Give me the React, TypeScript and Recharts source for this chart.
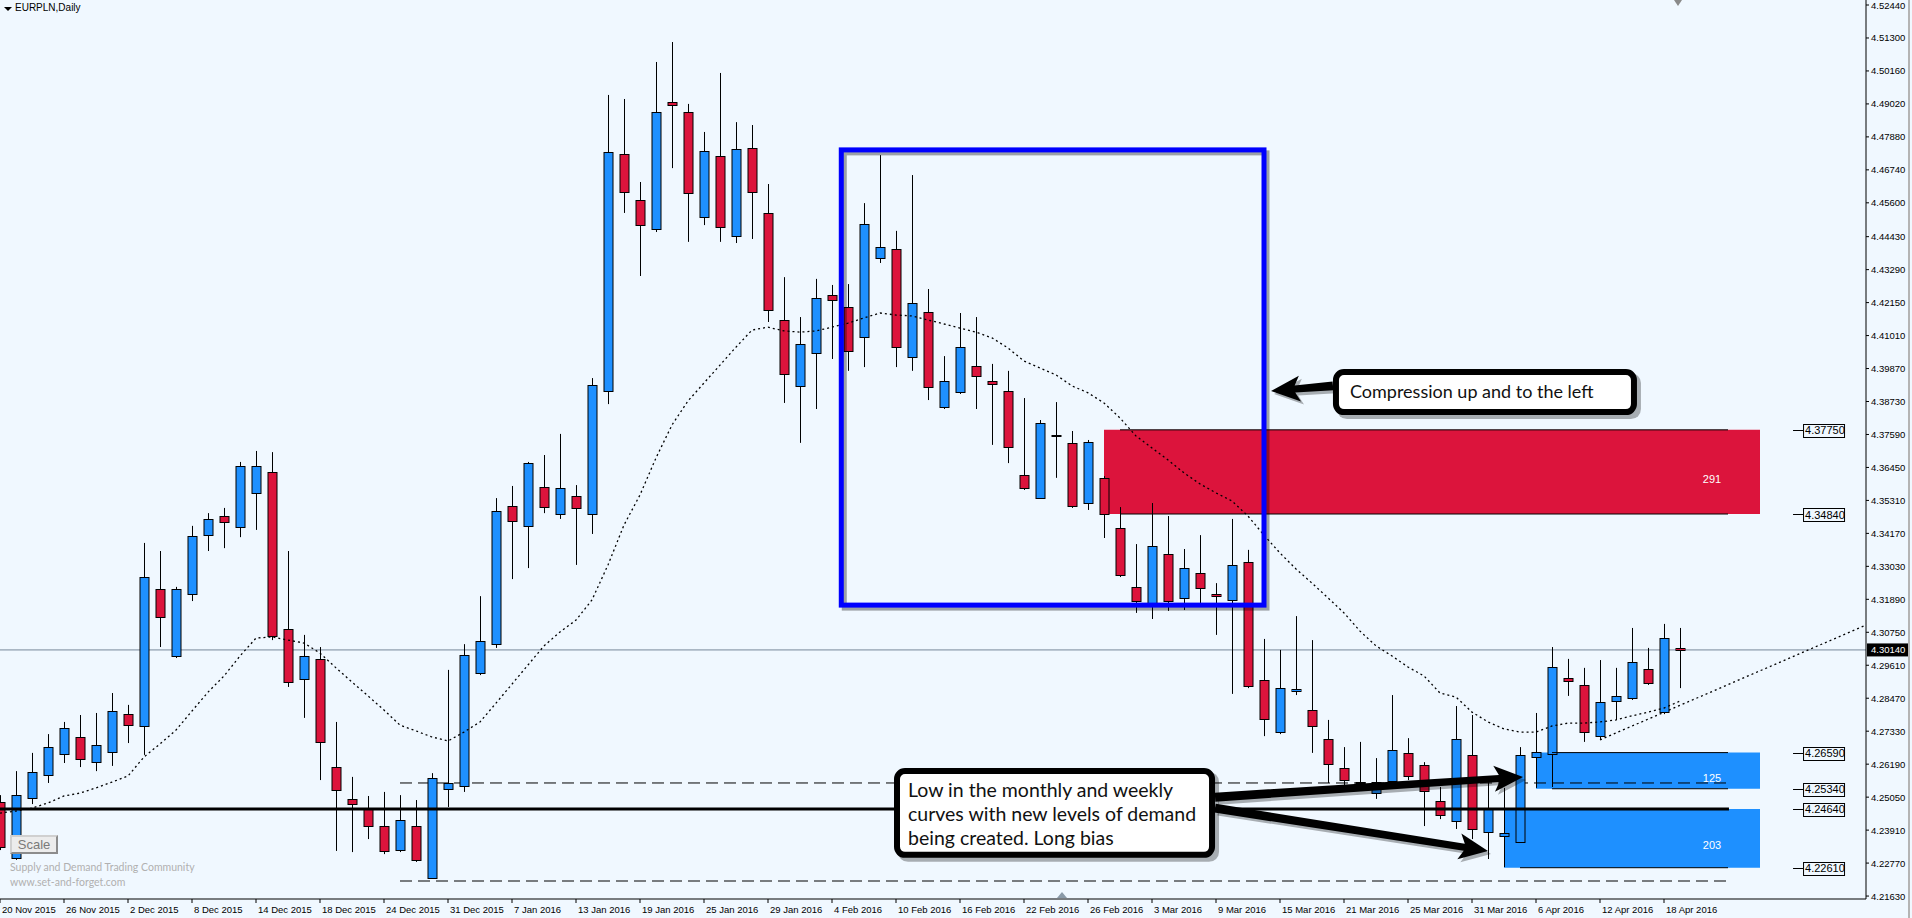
import React from 'react';
import {
  ComposedChart,
  Bar,
  Line,
  XAxis,
  YAxis,
  ReferenceLine,
  ReferenceArea,
  ReferenceDot,
} from 'recharts';

// EURPLN daily candles, 20 Nov 2015 .. 19 Apr 2016 (one entry per trading day)
const opens = [
  4.2488, 4.2295, 4.2502, 4.2582, 4.2654, 4.2713, 4.2626, 4.2661, 4.2792, 4.2751,
  4.3225, 4.2993, 4.3207, 4.3411, 4.3477, 4.3439, 4.3557, 4.3629, 4.3086, 4.2913,
  4.2983, 4.2609, 4.2499, 4.2467, 4.2405, 4.2322, 4.2405, 4.2225, 4.2533, 4.2543,
  4.2934, 4.3034, 4.3512, 4.3443, 4.3577, 4.3484, 4.3546, 4.3484, 4.3909, 4.4729,
  4.457, 4.4469, 4.4909, 4.4874, 4.4511, 4.4722, 4.4445, 4.475, 4.4525, 4.4155,
  4.3927, 4.4041, 4.4241, 4.42, 4.4096, 4.4369, 4.44, 4.4027, 4.4183, 4.3854,
  4.3906, 4.3996, 4.3944, 4.3909, 4.3619, 4.3539, 4.3757, 4.373, 4.3522, 4.3609,
  4.3436, 4.3232, 4.3173, 4.3346, 4.3194, 4.328, 4.3207, 4.3187, 4.3318, 4.291,
  4.273, 4.2872, 4.2806, 4.2706, 4.2606, 4.2555, 4.2519, 4.2561, 4.2658, 4.2616,
  4.2492, 4.2423, 4.2651, 4.2384, 4.2371, 4.235, 4.2644, 4.2654, 4.2917, 4.2893,
  4.2716, 4.2837, 4.2848, 4.2948, 4.2799, 4.3021,
];
const highs = [
  4.2512, 4.2595, 4.2658, 4.2723, 4.2765, 4.2789, 4.2796, 4.2865, 4.2824, 4.3384,
  4.3356, 4.3232, 4.3443, 4.3487, 4.3505, 4.3664, 4.3702, 4.3698, 4.3356, 4.3066,
  4.3024, 4.2765, 4.2575, 4.2509, 4.2523, 4.2512, 4.2495, 4.2588, 4.2945, 4.3034,
  4.32, 4.3539, 4.3581, 4.3664, 4.3688, 4.3761, 4.3584, 4.3954, 4.4933, 4.4919,
  4.4632, 4.5047, 4.5116, 4.4902, 4.4805, 4.5009, 4.4839, 4.4829, 4.4625, 4.4303,
  4.4165, 4.4297, 4.4276, 4.4279, 4.4559, 4.4725, 4.4463, 4.4656, 4.4262, 4.403,
  4.4179, 4.4165, 4.4003, 4.3979, 4.3885, 4.3809, 4.3871, 4.3771, 4.374, 4.3615,
  4.3508, 4.338, 4.3522, 4.3477, 4.3363, 4.3411, 4.3245, 4.3467, 4.336, 4.3052,
  4.3014, 4.3131, 4.3048, 4.2772, 4.2678, 4.2696, 4.264, 4.2858, 4.2709, 4.2626,
  4.254, 4.282, 4.2789, 4.2557, 4.2537, 4.2678, 4.2796, 4.3024, 4.2983, 4.2952,
  4.2979, 4.2952, 4.309, 4.3021, 4.3104, 4.309,
];
const lows = [
  4.2322, 4.2288, 4.2481, 4.2554, 4.2623, 4.2609, 4.2595, 4.2613, 4.2692, 4.2651,
  4.3024, 4.2986, 4.3183, 4.3356, 4.3366, 4.3404, 4.3429, 4.3048, 4.2886, 4.2779,
  4.2564, 4.2319, 4.2315, 4.236, 4.2308, 4.2315, 4.2281, 4.2222, 4.2471, 4.2523,
  4.2927, 4.3021, 4.3259, 4.3297, 4.3487, 4.3467, 4.3308, 4.3415, 4.3864, 4.4525,
  4.4307, 4.4459, 4.468, 4.4425, 4.4483, 4.4425, 4.4421, 4.4435, 4.4148, 4.3868,
  4.373, 4.3847, 4.402, 4.3979, 4.3992, 4.4352, 4.3992, 4.3979, 4.3878, 4.3847,
  4.3899, 4.3847, 4.3723, 4.366, 4.3567, 4.3536, 4.3609, 4.3505, 4.3498, 4.3401,
  4.3266, 4.3142, 4.3121, 4.3149, 4.3152, 4.3176, 4.3066, 4.2862, 4.2882, 4.2716,
  4.2723, 4.2858, 4.2658, 4.2554, 4.2547, 4.2551, 4.2499, 4.2554, 4.2564, 4.2405,
  4.2429, 4.2395, 4.236, 4.2291, 4.2263, 4.2347, 4.2537, 4.254, 4.2855, 4.2696,
  4.2703, 4.2772, 4.2841, 4.2893, 4.2792, 4.2882,
];
const closes = [
  4.2333, 4.2512, 4.2592, 4.2678, 4.2744, 4.2637, 4.2685, 4.2803, 4.2754, 4.3266,
  4.3128, 4.3225, 4.3408, 4.3467, 4.3456, 4.365, 4.365, 4.3062, 4.2903, 4.2993,
  4.2696, 4.253, 4.2481, 4.2405, 4.2319, 4.2426, 4.2288, 4.2571, 4.2554, 4.2996,
  4.3045, 4.3494, 4.346, 4.366, 4.3508, 4.3574, 4.3505, 4.393, 4.4736, 4.4597,
  4.4483, 4.4874, 4.4898, 4.4594, 4.4739, 4.4476, 4.4746, 4.4597, 4.4189, 4.3968,
  4.4072, 4.4231, 4.4224, 4.4048, 4.4487, 4.4407, 4.4061, 4.4214, 4.3923, 4.3944,
  4.4061, 4.3961, 4.3934, 4.3716, 4.3574, 4.3799, 4.3758, 4.3512, 4.3733, 4.3484,
  4.3273, 4.3183, 4.3373, 4.3183, 4.3297, 4.3228, 4.32, 4.3308, 4.2889, 4.2775,
  4.2882, 4.2879, 4.2751, 4.262, 4.2564, 4.2559, 4.2557, 4.2668, 4.2578, 4.2526,
  4.2443, 4.2706, 4.2395, 4.2464, 4.2381, 4.2651, 4.2661, 4.2955, 4.2906, 4.273,
  4.2834, 4.2855, 4.2972, 4.2899, 4.3055, 4.3014,
];
// dotted moving average
const maValues = [
  4.245, 4.2457, 4.2467, 4.2485, 4.2509, 4.2519, 4.2537, 4.2557, 4.2578, 4.2644,
  4.2689, 4.2737, 4.2803, 4.2868, 4.2924, 4.2993, 4.3055, 4.3059, 4.3048, 4.3038,
  4.3003, 4.2952, 4.2903, 4.2855, 4.2806, 4.2754, 4.2734, 4.2713, 4.2699, 4.273,
  4.2765, 4.283, 4.2896, 4.2962, 4.3028, 4.3076, 4.3117, 4.3187, 4.3308, 4.3446,
  4.355, 4.3678, 4.3792, 4.3875, 4.3937, 4.3999, 4.4061, 4.412, 4.413, 4.4117,
  4.4113, 4.4117, 4.413, 4.4144, 4.4162, 4.4179, 4.4172, 4.4169, 4.4155, 4.4141,
  4.4127, 4.4113, 4.4093, 4.4058, 4.4013, 4.3989, 4.3965, 4.3927, 4.3903, 4.3868,
  4.3816, 4.3754, 4.3712, 4.3671, 4.3626, 4.3588, 4.3557, 4.3529, 4.3477, 4.3411,
  4.3349, 4.3294, 4.3245, 4.3194, 4.3142, 4.3079, 4.3028, 4.2993, 4.2955, 4.2924,
  4.2865, 4.2851, 4.2799, 4.2765, 4.2741, 4.273, 4.273, 4.2751, 4.2761, 4.2761,
  4.2765, 4.2772, 4.2786, 4.2799, 4.2813, 4.2837,
];

// one label every 4 bars
const tickLabels = [
  '20 Nov 2015', '26 Nov 2015', '2 Dec 2015', '8 Dec 2015', '14 Dec 2015', '18 Dec 2015',
  '24 Dec 2015', '31 Dec 2015', '7 Jan 2016', '13 Jan 2016', '19 Jan 2016', '25 Jan 2016',
  '29 Jan 2016', '4 Feb 2016', '10 Feb 2016', '16 Feb 2016', '22 Feb 2016', '26 Feb 2016',
  '3 Mar 2016', '9 Mar 2016', '15 Mar 2016', '21 Mar 2016', '25 Mar 2016', '31 Mar 2016',
  '6 Apr 2016', '12 Apr 2016', '18 Apr 2016',
];
const priceTicks = [
  4.5244, 4.513, 4.5016, 4.4902, 4.4788, 4.4674, 4.456, 4.4443, 4.4329, 4.4215,
  4.4101, 4.3987, 4.3873, 4.3759, 4.3645, 4.3531, 4.3417, 4.3303, 4.3189, 4.3075,
  4.2961, 4.2847, 4.2733, 4.2619, 4.2505, 4.2391, 4.2277, 4.2163,
];
const levelLabels = [4.3775, 4.3484, 4.2659, 4.2534, 4.2464, 4.2261];
const lastPrice = 4.3014;

const RED = '#DC143C';
const BLUE = '#1E90FF';
const AXIS_FONT = '"Liberation Sans", Arial, sans-serif';
const NOTE_FONT = 'Lato, "Open Sans", sans-serif';

const data = opens.map((o, i) => ({
  i,
  open: o,
  high: highs[i],
  low: lows[i],
  close: closes[i],
  ma: maValues[i],
}));
const xTicks = tickLabels.map((_, k) => k * 4);

const Candle = (props: any) => {
  const { x, y, width, height } = props;
  const d = props.payload ?? props;
  if (x == null || y == null || !d) return null;
  const top = Math.min(y, y + height);
  const h = Math.abs(height);
  const span = d.high - d.low || 1;
  const toY = (v: number) => top + ((d.high - v) / span) * h;
  const cx = Math.round(x + width / 2);
  const bTop = toY(Math.max(d.open, d.close));
  const bBot = toY(Math.min(d.open, d.close));
  const up = d.close >= d.open;
  return (
    <g>
      <line x1={cx + 0.5} x2={cx + 0.5} y1={top} y2={top + h} stroke="#000" strokeWidth={1} />
      <rect
        x={cx - 4}
        y={Math.round(bTop) + 0.5}
        width={9}
        height={Math.max(Math.round(bBot - bTop), 1)}
        fill={up ? BLUE : RED}
        stroke="#000"
        strokeWidth={1}
      />
    </g>
  );
};

const xTick = (p: any) => (
  <text x={p.x + 2} y={p.y + 8} fontSize={9.5} fontFamily={AXIS_FONT} fill="#000">
    {tickLabels[Math.round(p.payload.value / 4)]}
  </text>
);
const yTick = (p: any) => (
  <text x={p.x} y={p.y + 3.5} fontSize={9.5} fontFamily={AXIS_FONT} fill="#000">
    {Number(p.payload.value).toFixed(5)}
  </text>
);

const levelBox = (v: number) => (p: any) => (
  <g>
    <line x1={p.cx - 10} x2={p.cx} y1={Math.round(p.cy) + 0.5} y2={Math.round(p.cy) + 0.5} stroke="#000" />
    <rect x={p.cx + 0.5} y={Math.round(p.cy) - 6 + 0.5} width={41} height={13} fill="#F0F8FF" stroke="#000" />
    <text x={p.cx + 2} y={p.cy + 4.5} fontSize={11} fontFamily={AXIS_FONT} fill="#000">
      {v.toFixed(5)}
    </text>
  </g>
);

const zoneText = (t: string) => (p: any) => (
  <text x={p.cx} y={p.cy + 4} textAnchor="middle" fontSize={11} fontFamily={AXIS_FONT} fill="#fff">
    {t}
  </text>
);

const priceTag = (p: any) => (
  <g>
    <rect x={p.cx + 1} y={p.cy - 6.5} width={42} height={13} fill="#000" />
    <text x={p.cx + 5} y={p.cy + 3.5} fontSize={9.5} fontFamily={AXIS_FONT} fill="#fff">
      {lastPrice.toFixed(5)}
    </text>
  </g>
);

const boxShape = (p: any) => (
  <g>
    <rect x={p.x + 3} y={p.y + 3} width={p.width} height={p.height} fill="none" stroke="rgba(0,0,0,0.35)" strokeWidth={5} />
    <rect x={p.x} y={p.y} width={p.width} height={p.height} fill="none" stroke="#0000FF" strokeWidth={5} />
  </g>
);

const callout = (lines: string[], fontSize: number, padX: number, first: number, gap: number) => (p: any) => (
  <g>
    <rect x={p.x + 4} y={p.y + 4} width={p.width} height={p.height} rx={10} fill="rgba(0,0,0,0.3)" />
    <rect x={p.x + 3} y={p.y + 3} width={p.width - 6} height={p.height - 6} rx={8} fill="#fff" stroke="#000" strokeWidth={6} />
    {lines.map((t, k) => (
      <text key={k} x={p.x + padX} y={p.y + first + k * gap} fontSize={fontSize} fontFamily={NOTE_FONT} fill="#111">
        {t}
      </text>
    ))}
  </g>
);

const arrow = (p: any) => {
  const { x1, y1, x2, y2 } = p;
  const dx = x2 - x1;
  const dy = y2 - y1;
  const len = Math.hypot(dx, dy) || 1;
  const ux = dx / len;
  const uy = dy / len;
  const nx = -uy;
  const ny = ux;
  const head = 24;
  const hw = 13;
  const bx = x2 - ux * head;
  const by = y2 - uy * head;
  const pts = [
    [x1 + nx * 4.5, y1 + ny * 4.5],
    [bx + nx * 3.5, by + ny * 3.5],
    [bx - ux * 5 + nx * hw, by - uy * 5 + ny * hw],
    [x2, y2],
    [bx - ux * 5 - nx * hw, by - uy * 5 - ny * hw],
    [bx - nx * 3.5, by - ny * 3.5],
    [x1 - nx * 4.5, y1 - ny * 4.5],
  ];
  const str = (ox: number, oy: number) => pts.map(([a, b]) => `${a + ox},${b + oy}`).join(' ');
  return (
    <g>
      <polygon points={str(3, 3)} fill="rgba(0,0,0,0.3)" />
      <polygon points={str(0, 0)} fill="#000" />
    </g>
  );
};

export default function App() {
  return (
    <div
      style={{
        position: 'absolute',
        left: 0,
        top: 0,
        width: 1912,
        height: 918,
        background: '#F0F8FF',
        overflow: 'hidden',
      }}
    >
      <ComposedChart width={1912} height={918} data={data} margin={{ top: 0, right: 0, bottom: 0, left: 0 }}>
        <XAxis
          dataKey="i"
          type="number"
          domain={[0, 116.625]}
          allowDataOverflow
          ticks={xTicks}
          interval={0}
          height={19}
          tickSize={4}
          tickMargin={2}
          tick={xTick}
          axisLine={{ stroke: '#000' }}
          tickLine={{ stroke: '#000' }}
        />
        <YAxis
          orientation="right"
          type="number"
          domain={[4.21528, 4.52613]}
          allowDataOverflow
          ticks={priceTicks}
          interval={0}
          width={46}
          tickSize={3}
          tickMargin={2}
          tick={yTick}
          axisLine={{ stroke: '#000' }}
          tickLine={{ stroke: '#000' }}
        />

        {/* supply / demand zones */}
        <ReferenceArea x1={69} x2={110} y1={4.3775} y2={4.3484} fill={RED} fillOpacity={1} stroke="none" zIndex={100} />
        <ReferenceArea x1={96} x2={110} y1={4.2659} y2={4.2534} fill={BLUE} fillOpacity={1} stroke="none" zIndex={100} />
        <ReferenceArea x1={94} x2={110} y1={4.2464} y2={4.2261} fill={BLUE} fillOpacity={1} stroke="none" zIndex={100} />

        <ReferenceLine y={lastPrice} stroke="#778899" strokeWidth={1} zIndex={150} />
        <ReferenceLine segment={[{ x: 25, y: 4.2554 }, { x: 108.25, y: 4.2554 }]} stroke="#000" strokeDasharray="12 6" zIndex={150} />
        <ReferenceLine segment={[{ x: 25, y: 4.2215 }, { x: 108.25, y: 4.2215 }]} stroke="#000" strokeDasharray="12 6" zIndex={150} />
        <ReferenceLine
          segment={[{ x: 100, y: 4.2703 }, { x: 116.625, y: 4.31 }]}
          stroke="#000"
          strokeWidth={1.3}
          strokeDasharray="2 3"
          ifOverflow="visible"
          zIndex={150}
        />

        <Bar dataKey={(d: any) => [d.low, d.high]} barSize={10} shape={Candle} isAnimationActive={false} zIndex={300} />
        <Line
          dataKey="ma"
          type="linear"
          stroke="#000"
          strokeWidth={1.3}
          strokeDasharray="2 3"
          dot={false}
          activeDot={false}
          isAnimationActive={false}
          zIndex={400}
        />

        <ReferenceLine segment={[{ x: 0, y: 4.2464 }, { x: 108.06, y: 4.2464 }]} stroke="#000" strokeWidth={3} zIndex={450} />
        <ReferenceLine segment={[{ x: 70, y: 4.3775 }, { x: 108, y: 4.3775 }]} stroke="#000" zIndex={450} />
        <ReferenceLine segment={[{ x: 70, y: 4.3484 }, { x: 108, y: 4.3484 }]} stroke="#000" zIndex={450} />
        <ReferenceLine segment={[{ x: 97, y: 4.2659 }, { x: 108, y: 4.2659 }]} stroke="#000" zIndex={450} />
        <ReferenceLine segment={[{ x: 97, y: 4.2534 }, { x: 108, y: 4.2534 }]} stroke="#000" zIndex={450} />
        <ReferenceLine segment={[{ x: 95, y: 4.2261 }, { x: 108, y: 4.2261 }]} stroke="#000" zIndex={450} />

        <ReferenceDot x={107} y={4.3605} r={1} shape={zoneText('291')} ifOverflow="visible" zIndex={460} />
        <ReferenceDot x={107} y={4.2571} r={1} shape={zoneText('125')} ifOverflow="visible" zIndex={460} />
        <ReferenceDot x={107} y={4.2339} r={1} shape={zoneText('203')} ifOverflow="visible" zIndex={460} />

        {levelLabels.map((v) => (
          <ReferenceDot key={v} x={112.69} y={v} r={1} shape={levelBox(v)} ifOverflow="visible" zIndex={470} />
        ))}
        <ReferenceDot x={116.625} y={lastPrice} r={1} shape={priceTag} ifOverflow="visible" zIndex={470} />

        {/* compression box */}
        <ReferenceArea x1={52.58} x2={79} y1={4.4743} y2={4.3169} shape={boxShape} ifOverflow="visible" zIndex={500} />

        {/* notes */}
        <ReferenceArea
          x1={83.31}
          x2={102.31}
          y1={4.3985}
          y2={4.3826}
          shape={callout(['Compression up and to the left'], 18, 17, 29, 0)}
          ifOverflow="visible"
          zIndex={600}
        />
        <ReferenceArea
          x1={55.875}
          x2={75.94}
          y1={4.2606}
          y2={4.2295}
          shape={callout(
            ['Low in the monthly and weekly', 'curves with new levels of demand', 'being created. Long bias'],
            19.5,
            14,
            29,
            24,
          )}
          ifOverflow="visible"
          zIndex={600}
        />
        <ReferenceLine segment={[{ x: 83.31, y: 4.3927 }, { x: 79.44, y: 4.3909 }]} shape={arrow} ifOverflow="visible" zIndex={650} />
        <ReferenceLine segment={[{ x: 75.94, y: 4.2505 }, { x: 95.19, y: 4.2575 }]} shape={arrow} ifOverflow="visible" zIndex={650} />
        <ReferenceLine segment={[{ x: 75.94, y: 4.2467 }, { x: 93, y: 4.2319 }]} shape={arrow} ifOverflow="visible" zIndex={650} />
      </ComposedChart>

      {/* terminal decorations */}
      <div
        style={{
          position: 'absolute',
          left: 4,
          top: 7,
          width: 0,
          height: 0,
          borderLeft: '4px solid transparent',
          borderRight: '4px solid transparent',
          borderTop: '4px solid #000',
        }}
      />
      <div style={{ position: 'absolute', left: 15, top: 2, fontFamily: AXIS_FONT, fontSize: 10, color: '#000' }}>
        EURPLN,Daily
      </div>
      <div
        style={{
          position: 'absolute',
          left: 1674,
          top: 0,
          width: 0,
          height: 0,
          borderLeft: '4px solid transparent',
          borderRight: '4px solid transparent',
          borderTop: '6px solid #8a8a8a',
        }}
      />
      <div
        style={{
          position: 'absolute',
          left: 1057,
          top: 892,
          width: 0,
          height: 0,
          borderLeft: '5px solid transparent',
          borderRight: '5px solid transparent',
          borderBottom: '6px solid #8a9aa8',
        }}
      />
      <div
        style={{
          position: 'absolute',
          left: 10,
          top: 835,
          width: 44,
          height: 15,
          background: '#ececec',
          borderTop: '2px solid #d0d0d0',
          borderLeft: '2px solid #d0d0d0',
          borderRight: '2px solid #8c8c8c',
          borderBottom: '2px solid #8c8c8c',
          color: '#7a7a7a',
          fontFamily: AXIS_FONT,
          fontSize: 13,
          lineHeight: '15px',
          textAlign: 'center',
        }}
      >
        Scale
      </div>
      <div style={{ position: 'absolute', left: 10, top: 861, fontFamily: NOTE_FONT, fontSize: 10.5, color: '#b0b0b0' }}>
        Supply and Demand Trading Community
      </div>
      <div style={{ position: 'absolute', left: 10, top: 876, fontFamily: NOTE_FONT, fontSize: 10.5, color: '#b0b0b0' }}>
        www.set-and-forget.com
      </div>
      <div style={{ position: 'absolute', left: 1908, top: 0, width: 2, height: 918, background: '#b4b4b4' }} />
    </div>
  );
}
